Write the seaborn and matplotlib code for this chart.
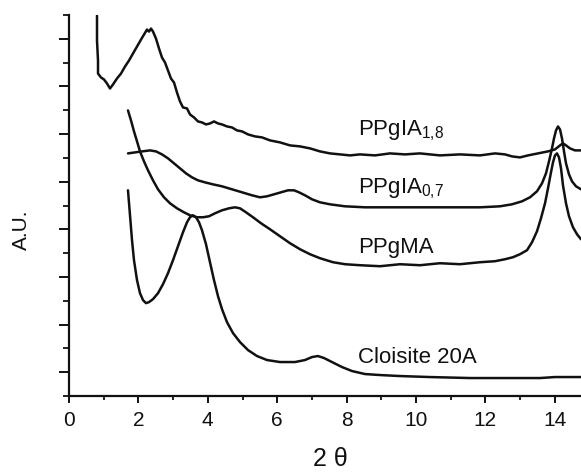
import numpy as np
import pandas as pd
import matplotlib
matplotlib.use("Agg")
import matplotlib.pyplot as plt
import seaborn as sns
from matplotlib.ticker import MultipleLocator, NullFormatter

# ---- data (2theta, arbitrary units) ----
x_ia18 = [0.807, 0.807, 0.836, 0.836, 0.922, 1.009, 1.095, 1.182, 1.268, 1.383, 1.499, 1.614,
          1.729, 1.844, 1.960, 2.075, 2.161, 2.248, 2.305, 2.363, 2.421, 2.507, 2.594, 2.680,
          2.767, 2.853, 2.939, 3.026, 3.112, 3.199, 3.285, 3.401, 3.487, 3.602, 3.718, 3.833,
          3.948, 4.063, 4.179, 4.294, 4.409, 4.553, 4.697, 4.841, 4.986, 5.159, 5.360, 5.562,
          5.793, 6.081, 6.369, 6.657, 6.945, 7.233, 7.522, 7.810, 8.098, 8.386, 8.818, 9.251,
          9.683, 10.115, 10.692, 11.268, 11.844, 12.277, 12.565, 12.767, 12.997, 13.228,
          13.516, 13.804, 14.006, 14.150, 14.236, 14.323, 14.438, 14.582, 14.755]
y_ia18 = [7.987, 7.463, 7.044, 6.771, 6.688, 6.646, 6.562, 6.457, 6.541, 6.667, 6.771, 6.918,
          7.044, 7.191, 7.338, 7.484, 7.589, 7.694, 7.652, 7.715, 7.652, 7.505, 7.296, 7.107,
          7.002, 6.834, 6.667, 6.583, 6.373, 6.184, 6.059, 6.038, 5.912, 5.849, 5.765, 5.744,
          5.702, 5.723, 5.765, 5.723, 5.702, 5.660, 5.639, 5.577, 5.556, 5.493, 5.451, 5.430,
          5.367, 5.325, 5.262, 5.241, 5.199, 5.136, 5.094, 5.073, 5.052, 5.073, 5.052, 5.094,
          5.073, 5.094, 5.052, 5.073, 5.052, 5.094, 5.073, 5.031, 5.010, 5.052,
          5.094, 5.136, 5.178, 5.262, 5.304, 5.262, 5.199, 5.157, 5.157]

x_ia07 = [1.700, 1.902, 2.104, 2.334, 2.507, 2.680, 2.853, 3.026, 3.199, 3.372, 3.545, 3.718,
          3.919, 4.150, 4.409, 4.697, 4.986, 5.274, 5.504, 5.706, 5.908, 6.110, 6.311, 6.484,
          6.628, 6.801, 7.003, 7.233, 7.522, 7.954, 8.530, 9.539, 10.692, 11.844, 12.421,
          12.767, 13.055, 13.285, 13.487, 13.631, 13.746, 13.833, 13.919, 13.977, 14.035,
          14.092, 14.150, 14.207, 14.265, 14.323, 14.409, 14.496, 14.611, 14.755]
y_ia07 = [5.094, 5.115, 5.136, 5.157, 5.136, 5.073, 4.990, 4.885, 4.780, 4.675, 4.591, 4.528,
          4.486, 4.444, 4.403, 4.340, 4.277, 4.214, 4.172, 4.193, 4.235, 4.277, 4.319, 4.319,
          4.277, 4.214, 4.130, 4.067, 4.025, 3.983, 3.962, 3.962, 3.962, 3.962, 3.983,
          4.025, 4.088, 4.172, 4.298, 4.465, 4.675, 4.927, 5.199, 5.409, 5.577,
          5.660, 5.597, 5.409, 5.136, 4.885, 4.654, 4.507, 4.403, 4.340]

x_ma = [1.700, 1.787, 1.873, 1.960, 2.046, 2.161, 2.277, 2.421, 2.565, 2.738, 2.911, 3.112,
        3.314, 3.487, 3.689, 3.862, 4.035, 4.207, 4.409, 4.611, 4.784, 4.928, 5.101, 5.303,
        5.533, 5.793, 6.081, 6.369, 6.657, 6.945, 7.233, 7.608, 7.954, 8.386, 8.963, 9.539,
        10.115, 10.692, 11.268, 11.844, 12.277, 12.565, 12.795, 12.997, 13.199, 13.343,
        13.487, 13.602, 13.718, 13.804, 13.890, 13.948, 14.006, 14.063, 14.121, 14.179,
        14.236, 14.323, 14.409, 14.524, 14.640, 14.755]
y_ma = [5.996, 5.786, 5.556, 5.346, 5.136, 4.927, 4.738, 4.528, 4.340, 4.172, 4.046, 3.941,
        3.857, 3.795, 3.753, 3.753, 3.774, 3.836, 3.899, 3.941, 3.962, 3.941, 3.857, 3.753,
        3.627, 3.501, 3.354, 3.208, 3.082, 2.977, 2.893, 2.809, 2.767, 2.746, 2.725, 2.767,
        2.746, 2.788, 2.767, 2.809, 2.830, 2.872, 2.914, 2.977, 3.061, 3.228,
        3.459, 3.732, 4.046, 4.361, 4.696, 4.906, 5.052, 5.094, 5.010, 4.780,
        4.423, 4.046, 3.774, 3.543, 3.396, 3.291]

x_cl = [1.700, 1.758, 1.816, 1.873, 1.960, 2.046, 2.133, 2.219, 2.305, 2.421, 2.565, 2.709,
        2.853, 2.997, 3.141, 3.285, 3.401, 3.487, 3.573, 3.660, 3.746, 3.833, 3.948, 4.063,
        4.179, 4.294, 4.409, 4.553, 4.726, 4.928, 5.159, 5.418, 5.706, 6.081, 6.513, 6.801,
        7.003, 7.176, 7.349, 7.579, 7.867, 8.156, 8.530, 8.963, 9.539, 10.403, 11.556,
        12.421, 12.997, 13.573, 14.006, 14.294, 14.755]
y_cl = [4.319, 3.795, 3.270, 2.851, 2.432, 2.159, 2.013, 1.950, 1.971, 2.034, 2.159, 2.348,
        2.579, 2.851, 3.145, 3.438, 3.648, 3.753, 3.795, 3.753, 3.648, 3.480, 3.187, 2.809,
        2.432, 2.096, 1.824, 1.551, 1.321, 1.132, 0.964, 0.839, 0.755, 0.713, 0.713, 0.755,
        0.818, 0.839, 0.797, 0.713, 0.608, 0.524, 0.461, 0.440, 0.419, 0.398, 0.377,
        0.377, 0.377, 0.377, 0.398, 0.398, 0.398]

labels = [r"PPgIA$_{1{,}8}$", r"PPgIA$_{0{,}7}$", "PPgMA", "Cloisite 20A"]
label_x = [8.33, 8.33, 8.33, 8.33]
label_y = [5.47, 4.26, 3.00, 0.69]
x_ticks = [0, 2, 4, 6, 8, 10, 12, 14]

series = [(x_ia18, y_ia18), (x_ia07, y_ia07), (x_ma, y_ma), (x_cl, y_cl)]

sns.set_theme(style="ticks")
plt.rcParams["font.family"] = ["Liberation Sans", "DejaVu Sans"]
plt.rcParams["mathtext.fontset"] = "custom"
plt.rcParams["mathtext.rm"] = "Liberation Sans"
plt.rcParams["mathtext.it"] = "Liberation Sans"
plt.rcParams["mathtext.default"] = "rm"

fig = plt.figure(figsize=(5.81, 4.72), dpi=100)
ax = fig.add_axes([69 / 581, 76 / 472, 512 / 581, 381 / 472])

for xs, ys in series:
    df = pd.DataFrame({"x": xs, "y": ys})
    sns.lineplot(data=df, x="x", y="y", ax=ax, color="#111111", lw=1.8,
                 sort=False, estimator=None)

for lab, lx, ly in zip(labels, label_x, label_y):
    ax.text(lx, ly, lab, fontsize=16, color="#111111", ha="left", va="baseline")

ax.set_xlim(0, 14.755)
ax.set_ylim(0, 8)
ax.set_xticks(x_ticks)
ax.xaxis.set_minor_locator(MultipleLocator(1))
ax.set_yticks(np.arange(0.5, 8, 1.0))
ax.yaxis.set_minor_locator(MultipleLocator(1))
ax.yaxis.set_major_formatter(NullFormatter())

for s in ["top", "right"]:
    ax.spines[s].set_visible(False)
for s in ["left", "bottom"]:
    ax.spines[s].set_linewidth(1.6)
    ax.spines[s].set_color("#111111")

ax.tick_params(axis="x", which="major", direction="out", length=5, width=1.4,
               labelsize=15, colors="#111111", pad=6)
ax.tick_params(axis="x", which="minor", direction="out", length=3, width=1.3, colors="#111111")
ax.tick_params(axis="y", which="major", direction="out", length=7, width=1.4, colors="#111111")
ax.tick_params(axis="y", which="minor", direction="out", length=4, width=1.3, colors="#111111")

ax.set_xlabel("2 θ", fontsize=18, color="#111111")
ax.xaxis.set_label_coords(0.51, -0.135)
ax.set_ylabel("A.U.", fontsize=15, color="#111111")
ax.yaxis.set_label_coords(-0.074, 0.436)

fig.savefig("out.png", dpi=100)
